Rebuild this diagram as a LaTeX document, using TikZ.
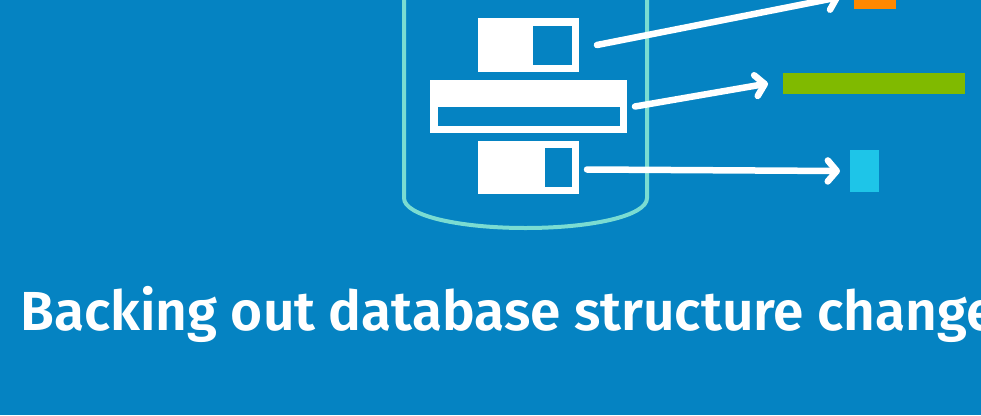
\documentclass[tikz,border=0pt]{standalone}
\usepackage{fontspec}
\setmainfont{Fira Sans}[BoldFont=Fira Sans SemiBold]
\usepackage{xcolor}
\usepackage{tikz}
\usetikzlibrary{arrows.meta,positioning}
\definecolor{bgblue}{RGB}{5,131,194}
\definecolor{cyl}{RGB}{122,220,210}
\definecolor{orng}{RGB}{255,136,0}
\definecolor{grn}{RGB}{128,186,0}
\definecolor{sky}{RGB}{30,197,232}
\tikzset{blk/.style={rectangle,fill=white,inner sep=0pt,outer sep=0pt},
  hole/.style={rectangle,fill=bgblue,inner sep=0pt,outer sep=0pt},
  tgt/.style={rectangle,inner sep=0pt,outer sep=0pt},
  arr/.style={white,line width=6.5pt,line cap=round,-{Straight Barb[round,length=9pt,width=21pt]}}}

\begin{document}
\begin{tikzpicture}[x=1pt,y=-1pt]
    \fill[bgblue] (0,0) rectangle (981,415);
    \clip (0,0) rectangle (981,415);

    % cylinder
    \draw[cyl,line width=4pt] (404,-10) -- (404,198) .. controls (404,216) and (460,228) .. (525.5,228)
        .. controls (591,228) and (647,216) .. (647,198) -- (647,-10);

    \node[blk,minimum width=101pt,minimum height=54pt] (a)at (528.5,45) {};
    \node[hole,minimum width=39pt,minimum height=39pt] (a1)at (552.5,45.5) {};
    \node[blk,minimum width=197pt,minimum height=53pt] (b)at (528.5,106.5) {};
    \node[hole,minimum width=182pt,minimum height=19pt] (b1)at (529,116.5) {};
    \node[blk,minimum width=101pt,minimum height=53pt] (c)at (528.5,167.5) {};
    \node[hole,minimum width=27pt,minimum height=39pt] (c1)at (558.5,167.5) {};

    \node[tgt,fill=orng,minimum width=42pt,minimum height=24pt] (d)at (875,-3) {};
    \node[tgt,fill=grn,minimum width=182pt,minimum height=21pt] (e)at (874,83.5) {};
    \node[tgt,fill=sky,minimum width=29pt,minimum height=42pt] (f)at (864.5,171) {};

    \draw [arr] ([xshift=18pt]a.east) to ([xshift=-14pt]d.west);
    \draw [arr] ([xshift=8pt]b.east) to ([xshift=-15pt]e.west);
    \draw [arr] ([xshift=8pt,yshift=-2pt]c.east) to ([xshift=-10pt]f.west);

    \node[anchor=base west,inner sep=0pt,text=white,font=\bfseries\fontsize{55}{60}\selectfont] (t)at (20,330) {Backing out database structure change};
\end{tikzpicture}
\end{document}
